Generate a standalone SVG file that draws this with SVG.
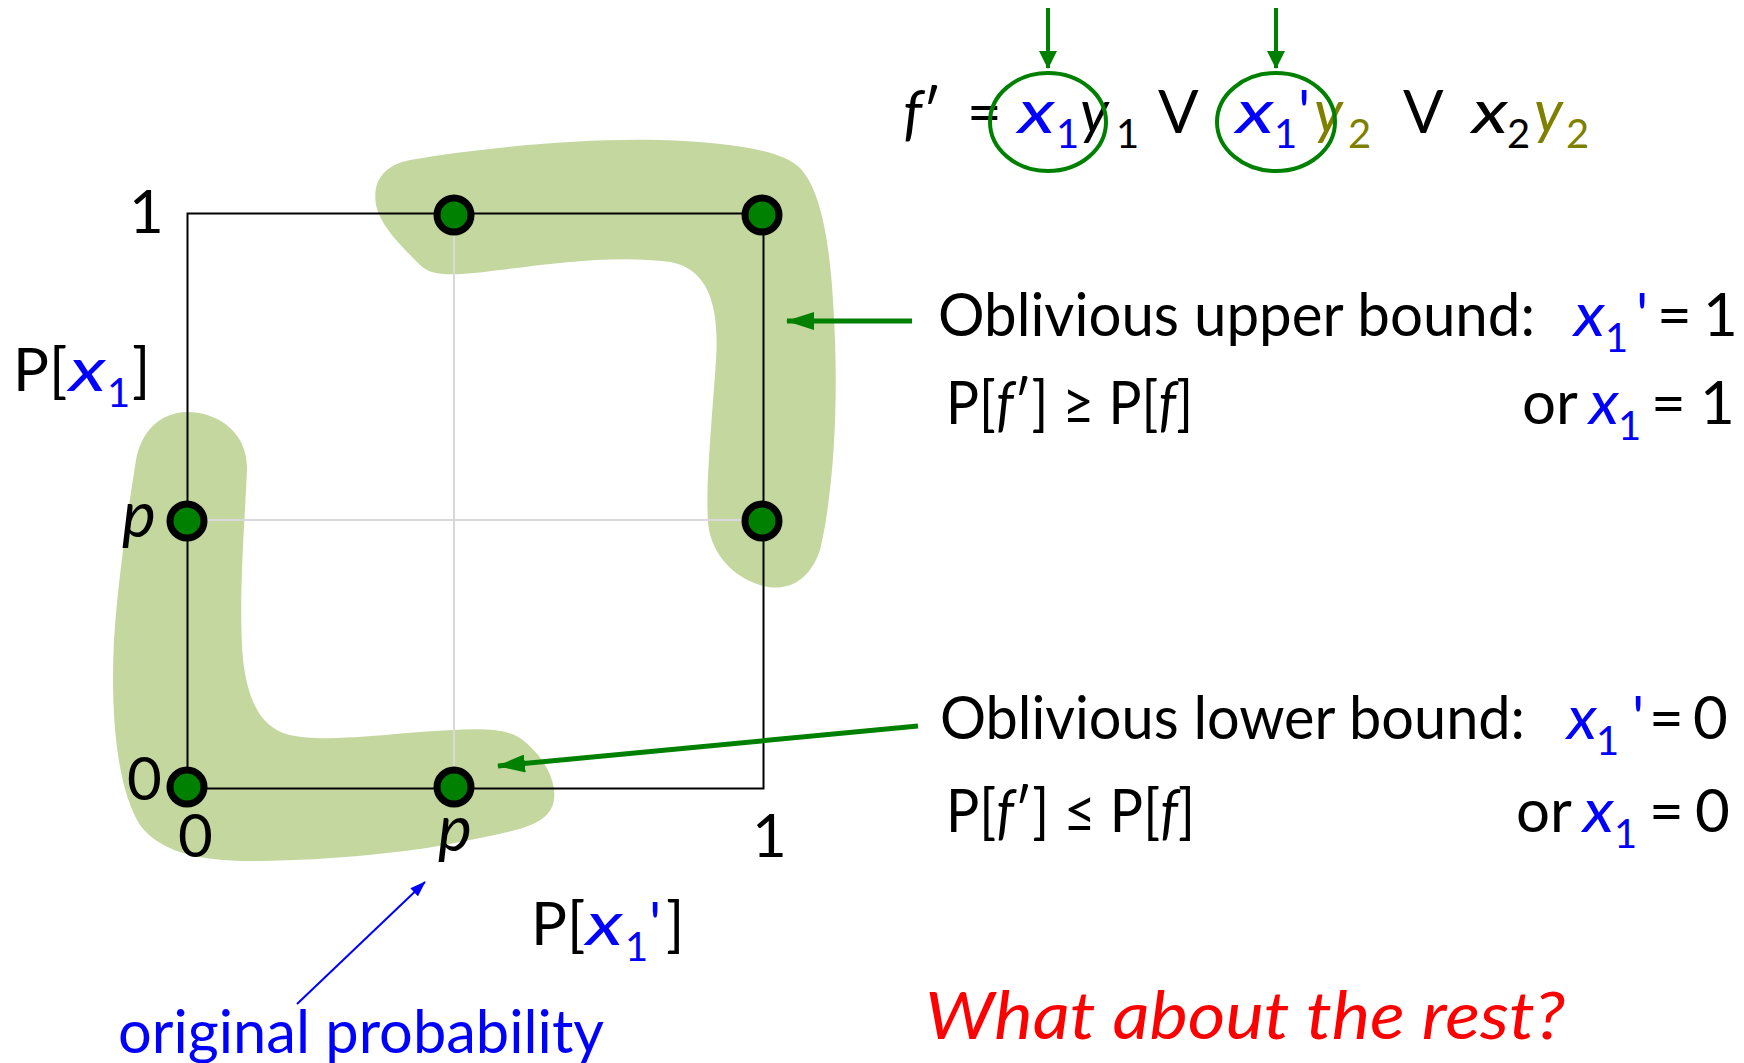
<svg xmlns="http://www.w3.org/2000/svg" width="1744" height="1063" viewBox="0 0 1744 1063">
<style>
text{font-family:Lato,"Open Sans","Liberation Sans",sans-serif;fill:#000}
.m{font-size:60px}
.s{font-size:40px}
.i{font-style:italic}
.b{fill:#0000ff}
.o{fill:#808000}
.r{fill:#ff0000}
.blob{fill:#c4d79f;stroke:none}
.grid{stroke:#d9d9d9;stroke-width:2;fill:none}
.dot{fill:#008000;stroke:#000;stroke-width:7}
.ga{stroke:#008000;stroke-width:5;fill:none}
.gv{stroke:#008000;stroke-width:4;fill:none}
.ell{stroke:#008000;stroke-width:4;fill:none}
</style>
<defs>
<marker id="gh" viewBox="0 0 28 18" refX="27" refY="9" markerWidth="28" markerHeight="18" markerUnits="userSpaceOnUse" orient="auto"><path d="M0,0 L28,9 L0,18 Z" fill="#008000"/></marker>
<marker id="gv" viewBox="0 0 18 18" refX="17" refY="9" markerWidth="18" markerHeight="18" markerUnits="userSpaceOnUse" orient="auto"><path d="M0,0 L18,9 L0,18 Z" fill="#008000"/></marker>
<marker id="bh" viewBox="0 0 16 11" refX="15" refY="5.5" markerWidth="16" markerHeight="11" markerUnits="userSpaceOnUse" orient="auto"><path d="M0,0 L16,5.5 L0,11 Z" fill="#0000ff"/></marker>
</defs>
<rect width="1744" height="1063" fill="#fff"/>

<g id="regions">
<path class="blob" d="M376,205 C372,180 385,165 410,160 C480,148 580,138 660,140 C720,142 780,148 800,168 C825,195 832,260 835,340 C838,420 832,500 820,550 C810,580 790,590 768,587 C740,582 715,560 709,530 C704,500 712,420 716,360 C720,300 705,268 670,262 C620,255 560,262 500,270 C460,275 432,278 420,265 C400,245 380,225 376,205 Z"/>
<path class="blob" d="M187,412 C160,413 142,430 136,460 C128,510 118,580 114,640 C110,720 118,790 140,825 C160,852 200,862 260,861 C330,860 410,853 470,840 C520,830 550,825 554,800 C557,778 540,752 520,738 C500,725 460,730 420,732 C370,736 320,742 290,735 C260,728 248,700 243,660 C238,600 245,520 247,470 C248,430 215,412 187,412 Z"/>
</g>

<g id="plot">
<line class="grid" x1="454" y1="215" x2="454" y2="787"/>
<line class="grid" x1="187" y1="520" x2="762" y2="520"/>
<rect x="187.5" y="213.5" width="576" height="575" fill="none" stroke="#000" stroke-width="2"/>
</g>

<g id="points">
<circle id="pt-p-1" class="dot" cx="454" cy="215" r="17"/>
<circle id="pt-1-1" class="dot" cx="762" cy="215" r="17"/>
<circle id="pt-0-p" class="dot" cx="187" cy="521" r="17"/>
<circle id="pt-1-p" class="dot" cx="762" cy="521" r="17"/>
<circle id="pt-0-0" class="dot" cx="187" cy="787" r="17"/>
<circle id="pt-p-0" class="dot" cx="454" cy="787" r="17"/>
</g>

<g id="axis-labels">
<text class="m" x="129" y="233">1</text>
<text class="m" x="13" y="391">P[</text>
<text class="m i b" x="69" y="391" textLength="37" lengthAdjust="spacingAndGlyphs">x</text>
<text class="s b" x="107" y="407">1</text>
<text class="m" x="132" y="391">]</text>
<text class="m i" x="122" y="537" style="font-size:64px">p</text>
<text class="m" x="127" y="800">0</text>
<text class="m" x="178" y="857">0</text>
<text class="m i" x="438" y="851" style="font-size:64px">p</text>
<text class="m" x="752" y="857">1</text>
<text class="m" x="531" y="945">P[</text>
<text class="m i b" x="586" y="945" textLength="37" lengthAdjust="spacingAndGlyphs">x</text>
<text class="s b" x="625" y="961">1</text>
<text class="m b" x="649" y="945">'</text>
<text class="m" x="666" y="945">]</text>
</g>

<g id="formula">
<text class="m i" x="903" y="133">f</text>
<text class="m" x="922" y="133">′</text>
<text class="m" x="967" y="133">=</text>
<text class="m i b" x="1018" y="133" textLength="37" lengthAdjust="spacingAndGlyphs">x</text>
<text class="s b" x="1056" y="148">1</text>
<text class="m i" x="1080" y="133">y</text>
<text class="s" x="1116" y="148">1</text>
<text class="m" x="1158" y="133">V</text>
<text class="m i b" x="1236" y="133" textLength="38" lengthAdjust="spacingAndGlyphs">x</text>
<text class="s b" x="1274" y="148">1</text>
<text class="m b" x="1298" y="133">'</text>
<text class="m i o" x="1314" y="133">y</text>
<text class="s o" x="1348" y="148">2</text>
<text class="m" x="1403" y="133">V</text>
<text class="m i" x="1472" y="133" textLength="36" lengthAdjust="spacingAndGlyphs">x</text>
<text class="s" x="1507" y="148">2</text>
<text class="m i o" x="1534" y="133">y</text>
<text class="s o" x="1566" y="148">2</text>
<ellipse class="ell" cx="1048" cy="122" rx="58" ry="49"/>
<ellipse class="ell" cx="1276" cy="122" rx="59" ry="49"/>
</g>

<g id="upper-bound">
<text class="m" x="938" y="336" textLength="597" lengthAdjust="spacingAndGlyphs">Oblivious upper bound:</text>
<text class="m i b" x="1574" y="336" textLength="31" lengthAdjust="spacingAndGlyphs">x</text>
<text class="s b" x="1605" y="352">1</text>
<text class="m b" x="1636" y="336">'</text>
<text class="m" x="1657" y="336">=</text>
<text class="m" x="1703" y="336">1</text>
<text class="m" x="946" y="424" textLength="247" lengthAdjust="spacingAndGlyphs">P[<tspan class="i">f</tspan>′] ≥ P[<tspan class="i">f</tspan>]</text>
<text class="m" x="1522" y="424">or</text>
<text class="m i b" x="1589" y="424" textLength="30" lengthAdjust="spacingAndGlyphs">x</text>
<text class="s b" x="1618" y="440">1</text>
<text class="m" x="1651" y="424">=</text>
<text class="m" x="1700" y="424">1</text>
</g>

<g id="lower-bound">
<text class="m" x="940" y="739" textLength="585" lengthAdjust="spacingAndGlyphs">Oblivious lower bound:</text>
<text class="m i b" x="1567" y="739" textLength="30" lengthAdjust="spacingAndGlyphs">x</text>
<text class="s b" x="1596" y="755">1</text>
<text class="m b" x="1632" y="739">'</text>
<text class="m" x="1649" y="739">=</text>
<text class="m" x="1693" y="739">0</text>
<text class="m" x="946" y="832" textLength="249" lengthAdjust="spacingAndGlyphs">P[<tspan class="i">f</tspan>′] ≤ P[<tspan class="i">f</tspan>]</text>
<text class="m" x="1516" y="832">or</text>
<text class="m i b" x="1583" y="832" textLength="31" lengthAdjust="spacingAndGlyphs">x</text>
<text class="s b" x="1614" y="848">1</text>
<text class="m" x="1649" y="832">=</text>
<text class="m" x="1695" y="832">0</text>
</g>

<g id="notes">
<text class="m b" x="118" y="1053" textLength="486" lengthAdjust="spacingAndGlyphs">original probability</text>
<text class="m i r" x="925" y="1039" style="font-size:66px" textLength="640" lengthAdjust="spacingAndGlyphs">What about the rest?</text>
</g>

<g id="connectors">
<line class="gv" x1="1048" y1="8" x2="1048" y2="68" marker-end="url(#gv)"/>
<line class="gv" x1="1276" y1="8" x2="1276" y2="68" marker-end="url(#gv)"/>
<line class="ga" x1="912" y1="321" x2="787" y2="321" marker-end="url(#gh)"/>
<line class="ga" x1="918" y1="726" x2="498" y2="766" marker-end="url(#gh)"/>
<line x1="297" y1="1004" x2="425" y2="882" stroke="#0000ff" stroke-width="2" marker-end="url(#bh)"/>
</g>
</svg>
